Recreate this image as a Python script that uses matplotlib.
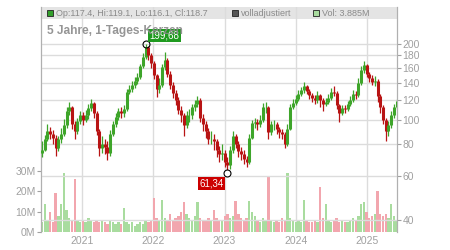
import matplotlib
matplotlib.use('Agg')
import matplotlib.pyplot as plt
import matplotlib.dates as mdates
from matplotlib.ticker import NullLocator
import numpy as np
import pandas as pd

# --- Daten (2-Wochen-Kerzen) ---
first_open = 74
closes = [76, 84, 90, 88, 85, 77, 84, 88, 95, 108,
          112, 96, 90, 99, 104, 100, 104, 111, 117, 106,
          90, 77, 80, 78, 74, 88, 96, 103, 108, 106,
          110, 129, 133, 138, 142, 148, 163, 178, 194, 180,
          168, 150, 132, 138, 162, 172, 152, 138, 128, 120,
          109, 104, 95, 104, 104, 112, 116, 120, 102, 96,
          90, 84, 84, 82, 76, 73, 74, 68, 66, 76,
          86, 80, 75, 73, 70, 68, 85, 97, 98, 96,
          100, 112, 112, 89, 96, 96, 92, 89, 88, 80,
          92, 112, 117, 121, 127, 131, 136, 130, 125, 122,
          120, 125, 120, 116, 118, 122, 129, 128, 114, 106,
          111, 110, 115, 120, 127, 125, 140, 158, 165, 152,
          146, 141, 143, 124, 112, 100, 90, 95, 104, 112,
          118.7]
highs = [82, 87, 96, 94, 91, 87, 86, 93, 101, 112,
         118, 113, 99, 102, 108, 107, 109, 115, 121, 118,
         108, 92, 86, 84, 82, 91, 99, 106, 111, 112,
         114, 132, 138, 143, 148, 154, 167, 184, 199.68, 197,
         184, 171, 152, 146, 166, 186, 176, 156, 141, 131,
         123, 113, 106, 108, 110, 116, 120, 124, 122, 105,
         99, 93, 90, 88, 84, 79, 80, 76, 71, 79,
         90, 88, 82, 78, 76, 72, 88, 100, 102, 101,
         104, 117, 118, 113, 99, 100, 98, 94, 92, 89,
         96, 115, 121, 125, 131, 135, 141, 138, 133, 128,
         125, 130, 127, 122, 122, 126, 134, 136, 130, 116,
         114, 114, 119, 124, 131, 130, 146, 163, 171, 167,
         155, 150, 149, 145, 126, 114, 102, 99, 108, 116,
         121]
lows = [71, 75, 82, 84, 80, 72, 75, 81, 86, 93,
        104, 92, 84, 88, 96, 95, 98, 101, 108, 102,
        87, 72, 74, 73, 69, 72, 86, 94, 100, 102,
        103, 108, 126, 129, 134, 139, 145, 160, 175, 172,
        160, 145, 123, 128, 135, 158, 148, 133, 122, 114,
        105, 98, 86, 93, 98, 101, 108, 112, 98, 90,
        85, 80, 80, 76, 71, 68, 69, 65, 61.34, 64,
        74, 77, 71, 69, 67, 65, 67, 84, 93, 91,
        94, 98, 106, 84, 87, 91, 88, 85, 84, 77,
        79, 91, 110, 114, 119, 124, 128, 126, 121, 118,
        116, 117, 112, 108, 113, 115, 120, 124, 110, 98,
        104, 106, 108, 113, 118, 121, 123, 138, 154, 148,
        141, 137, 136, 118, 106, 96, 82, 86, 93, 102,
        110]
volumes = [5, 14, 6, 10, 5, 19, 8, 14, 29, 11,
           7, 6, 26, 6, 5, 6, 5, 7, 6, 5,
           6, 5, 6, 5, 4, 6, 5, 4, 5, 4,
           12, 5, 4, 5, 3, 4, 5, 4, 6, 5,
           6, 17, 7, 6, 16, 7, 6, 9, 6, 7,
           8, 10, 15, 9, 7, 6, 8, 15, 7, 6,
           6, 7, 6, 11, 7, 6, 6, 8, 9, 7,
           8, 15.5, 9, 7, 6, 7, 15.5, 10, 8, 6,
           5, 7, 6, 27, 6, 5, 6, 5, 7, 6,
           29, 7, 6, 5, 6, 5, 16, 6, 5, 5,
           6, 5, 22, 7, 14, 6, 5, 6, 7, 5,
           6, 5, 5, 6, 7, 6, 8, 14, 15, 10,
           7, 8, 9, 20, 9, 8, 9, 7, 14, 8,
           6]
dates = pd.date_range('2020-06-08', periods=len(closes), freq='14D')

price_ticks = [40, 60, 80, 100, 120, 140, 160, 180, 200]
vol_ticks = [0, 10, 20, 30]
vol_labels = ['0M', '10M', '20M', '30M']

opens = [first_open] + closes[:-1]
x = mdates.date2num(dates)
up = np.array(closes) >= np.array(opens)
ccol = np.where(up, '#3ea52a', '#b81414')
vcol = np.where(up, '#a9dc9f', '#f2a6ae')

plt.rcParams['font.family'] = ['Liberation Sans', 'DejaVu Sans']
GRAY = '#a0a0a0'

fig = plt.figure(figsize=(4.5, 2.5), dpi=100)
ax_vol = fig.add_axes([41 / 450, 18 / 250, 356 / 450, 225 / 250])
ax = ax_vol.twinx()

# --- Volumen (linke Achse) ---
ax_vol.bar(x, volumes, width=12, color=vcol, zorder=2)
ax_vol.set_ylim(0, 111)
ax_vol.set_yticks(vol_ticks)
ax_vol.set_yticklabels(vol_labels)
ax_vol.set_xlim(mdates.datestr2num('2020-06-03'), mdates.datestr2num('2025-06-04'))
ax_vol.xaxis.set_major_locator(mdates.YearLocator())
ax_vol.xaxis.set_major_formatter(mdates.DateFormatter('%Y'))
ax_vol.grid(axis='x', color='#dcdcdc', lw=1, zorder=0)
ax_vol.set_axisbelow(True)

# Kopfzeile (grauer Balken)
ax_vol.axhspan(111 * (213 / 225), 111, color='#e4e4e4', zorder=0.5, lw=0)

# --- Kurs (rechte Achse, log) ---
ax.set_yscale('log')
ax.set_ylim(35.84, 280.3)
ax.yaxis.set_minor_locator(NullLocator())
ax.set_yticks(price_ticks)
ax.set_yticklabels([str(t) for t in price_ticks])
for t in price_ticks:
    ax.axhline(t, color='#dcdcdc', lw=1, zorder=0)
ax.vlines(x, lows, highs, colors=ccol, lw=0.9, zorder=3)
ax.vlines(x, opens, closes, colors=ccol, lw=2.2, zorder=3)

# Hoch / Tief
i_max = int(np.argmax(highs))
i_min = int(np.argmin(lows))
ax.plot(x[i_max], highs[i_max], 'o', mfc='none', mec='black', ms=5, mew=0.8, zorder=4)
ax.plot(x[i_min], lows[i_min], 'o', mfc='white', mec='black', ms=5, mew=0.8, zorder=4)
ax.annotate(f"{highs[i_max]:.2f}".replace('.', ','), (x[i_max], highs[i_max]),
            xytext=(4, 4), textcoords='offset pixels', ha='left', va='bottom',
            color='white', fontsize=7,
            bbox=dict(boxstyle='square,pad=0.15', fc='#1f9a1f', ec='none'), zorder=5)
ax.annotate(f"{lows[i_min]:.2f}".replace('.', ','), (x[i_min], lows[i_min]),
            xytext=(-4, -5), textcoords='offset pixels', ha='right', va='top',
            color='white', fontsize=7,
            bbox=dict(boxstyle='square,pad=0.15', fc='#cc0000', ec='none'), zorder=5)

# --- Achsen-Stil ---
for a in (ax_vol, ax):
    for s in ('top', 'bottom'):
        a.spines[s].set_visible(False)
    a.spines['left'].set_color('#b0b0b0')
    a.spines['right'].set_color('#b0b0b0')
    a.tick_params(colors=GRAY, labelsize=7.5, length=3, width=0.8, pad=1)
ax_vol.tick_params(axis='x', length=0, pad=3)

# --- Texte ---
def px(xp, yp):
    return xp / 450, 1 - yp / 250

fig.text(*px(47, 31), '5 Jahre, 1-Tages-Kerzen', fontsize=8.6, fontweight='bold',
         color='#8a8a8a', va='center', ha='left', zorder=6, alpha=0.9)

def legend_box(xp, color, label):
    fig.patches.append(plt.Rectangle(px(xp, 16), 6 / 450, 6 / 250, transform=fig.transFigure,
                                     fc=color, ec='#222222', lw=0.6, zorder=6))
    fig.text(*px(xp + 9, 13.5), label, fontsize=6.5, color='#8a8a8a', va='center', ha='left')

legend_box(47, '#33a02c', 'Op:117.4, Hi:119.1, Lo:116.1, Cl:118.7')
legend_box(232, '#555555', 'volladjustiert')
legend_box(313, '#a9dc9f', 'Vol: 3.885M')

fig.savefig('out.png', dpi=100)
